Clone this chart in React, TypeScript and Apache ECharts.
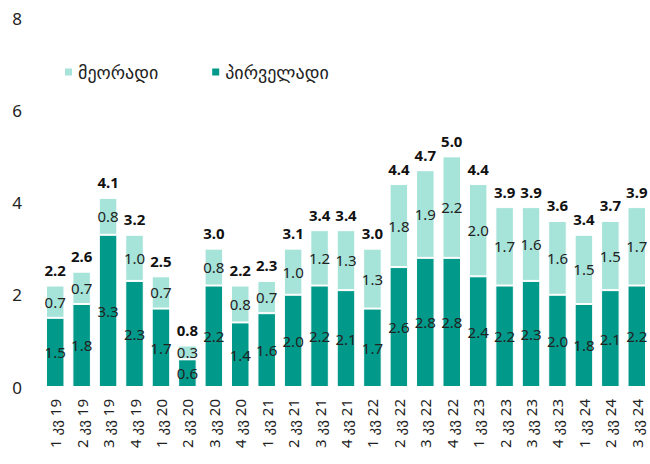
import React, { useEffect, useRef } from "react";
import * as echarts from "echarts";

const categories = [
  "1 კვ 19", "2 კვ 19", "3 კვ 19", "4 კვ 19",
  "1 კვ 20", "2 კვ 20", "3 კვ 20", "4 კვ 20",
  "1 კვ 21", "2 კვ 21", "3 კვ 21", "4 კვ 21",
  "1 კვ 22", "2 კვ 22", "3 კვ 22", "4 კვ 22",
  "1 კვ 23", "2 კვ 23", "3 კვ 23", "4 კვ 23",
  "1 კვ 24", "2 კვ 24", "3 კვ 24",
];

const primary = [1.5, 1.8, 3.3, 2.3, 1.7, 0.6, 2.2, 1.4, 1.6, 2.0, 2.2, 2.1, 1.7, 2.6, 2.8, 2.8, 2.4, 2.2, 2.3, 2.0, 1.8, 2.1, 2.2];
const secondary = [0.7, 0.7, 0.8, 1.0, 0.7, 0.3, 0.8, 0.8, 0.7, 1.0, 1.2, 1.3, 1.3, 1.8, 1.9, 2.2, 2.0, 1.7, 1.6, 1.6, 1.5, 1.5, 1.7];
const totals = [2.2, 2.6, 4.1, 3.2, 2.5, 0.8, 3.0, 2.2, 2.3, 3.1, 3.4, 3.4, 3.0, 4.4, 4.7, 5.0, 4.4, 3.9, 3.9, 3.6, 3.4, 3.7, 3.9];

const yTicks = [0, 2, 4, 6, 8];

const SERIES_PRIMARY = "პირველადი";
const SERIES_SECONDARY = "მეორადი";

const FONT = '"Noto Sans", "DejaVu Sans", sans-serif';

export default function App() {
  const ref = useRef<HTMLDivElement>(null);

  useEffect(() => {
    if (!ref.current) return;
    const chart = echarts.init(ref.current, undefined, { renderer: "svg" });
    const fmt = (v: number) => v.toFixed(1);
    chart.setOption({
      animation: false,
      textStyle: { fontFamily: FONT },
      legend: {
        data: [SERIES_SECONDARY, SERIES_PRIMARY],
        left: 58,
        top: 58,
        icon: "rect",
        itemWidth: 9,
        itemHeight: 9,
        itemGap: 52,
        itemTextGap: 5,
        textStyle: { fontSize: 18, color: "#222", fontFamily: FONT },
      },
      grid: { left: 42, right: 0, top: 18, bottom: 77, containLabel: false },
      xAxis: {
        type: "category",
        data: categories,
        axisLine: { show: false },
        axisTick: { show: false },
        axisLabel: {
          rotate: 90,
          fontSize: 15,
          color: "#222",
          margin: 12,
          interval: 0,
          fontFamily: FONT,
        },
      },
      yAxis: {
        type: "value",
        min: yTicks[0],
        max: yTicks[yTicks.length - 1],
        interval: 2,
        splitLine: { show: false },
        axisLine: { show: false },
        axisTick: { show: false },
        axisLabel: { fontSize: 17, color: "#222", margin: 20, fontFamily: FONT },
      },
      series: [
        {
          name: SERIES_PRIMARY,
          type: "bar",
          stack: "total",
          data: primary,
          barWidth: "70%",
          itemStyle: { color: "#00998A", borderColor: "#fff", borderWidth: 1 },
          label: {
            show: true,
            position: "inside",
            fontSize: 15,
            color: "#222",
            formatter: (p: any) => fmt(p.value),
          },
        },
        {
          name: SERIES_SECONDARY,
          type: "bar",
          stack: "total",
          data: secondary,
          itemStyle: { color: "#A6E3D9", borderColor: "#fff", borderWidth: 1 },
          label: {
            show: true,
            position: "inside",
            fontSize: 15,
            color: "#222",
            formatter: (p: any) => fmt(p.value),
          },
        },
        {
          name: "total",
          type: "bar",
          stack: "total",
          data: totals.map(() => 0),
          itemStyle: { color: "transparent" },
          label: {
            show: true,
            position: "top",
            distance: 8,
            fontSize: 15,
            fontWeight: "bold",
            color: "#111",
            formatter: (p: any) => fmt(totals[p.dataIndex]),
          },
        },
      ],
    });
    return () => chart.dispose();
  }, []);

  return (
    <div
      style={{ position: "fixed", left: 0, top: 0, width: 650, height: 464, overflow: "hidden", background: "#fff" }}
    >
      <div ref={ref} style={{ width: 650, height: 464 }} />
    </div>
  );
}
